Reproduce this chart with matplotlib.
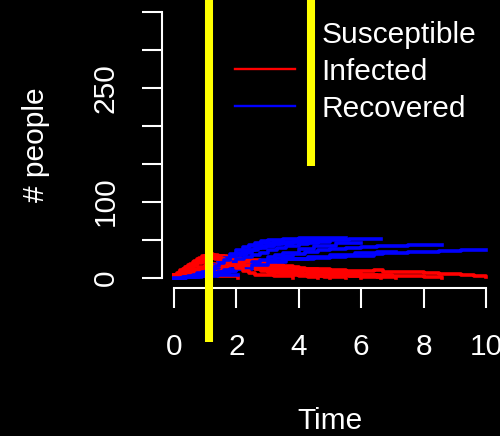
import matplotlib
matplotlib.use("Agg")
import matplotlib.pyplot as plt
from matplotlib.lines import Line2D

plt.rcParams['font.family'] = ['Liberation Sans', 'DejaVu Sans']

# stochastic SIR runs: event times, infected, recovered
run_times = [
    [0, 0.1, 0.2, 0.3, 0.4, 0.5, 0.6, 0.7, 0.8, 0.9, 1.0, 1.15, 1.3, 1.45, 1.6, 1.8, 2.0, 2.2, 2.4, 2.6, 2.8, 3.0, 3.2, 3.4, 3.6, 3.8, 4.0, 4.3, 4.6],
    [0, 0.15, 0.3, 0.45, 0.6, 0.75, 0.9, 1.05, 1.2, 1.35, 1.5, 1.7, 1.9, 2.1, 2.3, 2.5, 2.7, 2.95, 3.2, 3.5, 3.8, 4.1, 4.5, 4.9, 5.2, 5.6, 6.0, 6.3, 6.65],
    [0, 0.3, 0.5, 0.7, 0.9, 1.1, 1.3, 1.5, 1.75, 2.0, 2.25, 2.5, 2.75, 3.0, 3.25, 3.5, 3.8, 4.2, 4.6, 5.0, 5.5, 6.0, 6.5, 7.0, 7.5, 8.0, 8.58],
    [0, 0.2, 0.4, 0.6, 0.8, 1.0, 1.2, 1.4, 1.6, 1.8, 2.05, 2.3, 2.55, 2.8, 3.1, 3.5, 4.0, 4.5, 5.0, 5.5, 6.0, 6.4, 6.7, 7.1, 7.5, 8.0, 8.5, 8.85, 9.2, 9.6, 10.0],
    [0, 0.4, 0.9, 1.4, 2.05],
    [0, 0.1, 0.2, 0.35, 0.5, 0.65, 0.8, 0.95, 1.1, 1.25, 1.4, 1.6, 1.8, 2.0, 2.2, 2.4, 2.6, 2.8, 3.0, 3.25, 3.5, 4.0, 4.4, 4.8, 5.2, 5.5],
    [0, 0.4, 0.6, 0.8, 1.0, 1.2, 1.4, 1.6, 1.8, 2.0, 2.25, 2.5, 2.75, 3.0, 3.25, 3.5, 4.0, 4.5, 5.2, 5.6, 6.0],
    [0, 0.25, 0.5, 0.75, 1.0, 1.15, 1.3, 1.45, 1.6, 1.8, 2.0, 2.25, 2.5, 2.75, 3.0, 3.3, 3.6, 4.0, 4.3, 4.6, 5.0],
    [0, 0.3, 0.6, 0.9, 1.2, 1.6, 2.0, 2.5, 3.0, 3.6, 4.3, 5.0, 5.8, 6.5, 7.13],
    [0, 0.15, 0.3, 0.45, 0.6, 0.75, 0.9, 1.1, 1.3, 1.45, 1.6, 1.8, 2.0, 2.2, 2.4, 2.6, 2.8, 3.2, 3.8],
]
run_infected = [
    [3, 5, 8, 11, 14, 17, 19, 22, 24, 26, 28, 30, 29, 27, 25, 23, 20, 17, 14, 12, 10, 8, 7, 6, 4, 3, 2, 1, 0],
    [3, 6, 9, 12, 16, 19, 22, 25, 27, 29, 28, 26, 23, 21, 19, 16, 14, 12, 10, 8, 6, 5, 4, 3, 3, 2, 1, 1, 0],
    [3, 4, 5, 6, 8, 10, 11, 13, 16, 18, 21, 23, 22, 19, 17, 15, 13, 11, 9, 7, 6, 4, 3, 2, 2, 1, 0],
    [3, 5, 8, 11, 14, 16, 18, 20, 21, 22, 21, 19, 17, 16, 15, 14, 12, 11, 10, 9, 9, 10, 8, 7, 7, 6, 5, 5, 4, 2, 1],
    [3, 4, 3, 2, 0],
    [3, 6, 10, 14, 18, 22, 26, 29, 31, 30, 29, 26, 23, 19, 16, 13, 11, 9, 7, 6, 5, 3, 2, 1, 1, 0],
    [3, 5, 7, 9, 12, 15, 18, 20, 22, 24, 23, 21, 19, 17, 15, 13, 10, 7, 4, 2, 0],
    [3, 8, 15, 21, 25, 26, 25, 24, 22, 20, 18, 16, 14, 12, 10, 8, 6, 4, 3, 2, 0],
    [3, 6, 10, 13, 15, 16, 15, 13, 11, 9, 7, 5, 3, 1, 0],
    [3, 7, 12, 17, 21, 25, 28, 29, 27, 24, 21, 17, 13, 9, 6, 4, 3, 2, 0],
]
run_recovered = [
    [0, 0, 1, 1, 2, 3, 4, 5, 7, 9, 11, 14, 17, 20, 24, 28, 31, 34, 37, 39, 41, 42, 44, 45, 46, 47, 48, 48, 49],
    [0, 1, 1, 2, 3, 5, 7, 9, 12, 15, 19, 23, 26, 30, 33, 36, 39, 41, 44, 46, 47, 48, 49, 50, 50, 51, 51, 51, 51],
    [0, 1, 1, 2, 3, 4, 5, 7, 9, 11, 14, 17, 20, 23, 26, 29, 31, 34, 36, 38, 39, 40, 41, 42, 43, 43, 43],
    [0, 0, 1, 2, 3, 5, 6, 8, 10, 12, 14, 16, 18, 20, 22, 24, 25, 26, 27, 28, 29, 31, 32, 33, 34, 34, 35, 35, 36, 36, 37],
    [0, 1, 2, 3, 4],
    [0, 0, 1, 2, 3, 5, 7, 10, 13, 17, 21, 26, 31, 36, 40, 43, 46, 48, 49, 50, 51, 52, 52, 52, 52, 52],
    [0, 1, 1, 2, 3, 4, 6, 8, 10, 13, 16, 20, 23, 27, 30, 33, 38, 42, 45, 46, 46],
    [0, 1, 3, 5, 9, 11, 13, 16, 18, 21, 24, 27, 30, 33, 36, 39, 42, 44, 46, 47, 48],
    [0, 1, 2, 4, 6, 9, 12, 16, 20, 24, 27, 30, 32, 34, 34],
    [0, 0, 1, 2, 4, 6, 8, 11, 15, 19, 23, 28, 33, 37, 41, 43, 45, 47, 47],
]

# highlight markers: x position, bottom, top
marker_x = [1.12, 4.39]
marker_bottom = [-85, 147]
marker_top = [400, 400]

yticks = [0, 50, 100, 150, 200, 250, 300, 350]
ytick_labels = ['0', '', '100', '', '', '250', '', '']
xticks = [0, 2, 4, 6, 8, 10]

fs = 21.5

fig = plt.figure(figsize=(5, 4.36), dpi=100, facecolor='black')
ax = fig.add_axes([0.323, 0.3388, 0.674, 0.6588], facecolor='black')

for t, inf, rec in zip(run_times, run_infected, run_recovered):
    ax.plot(t, inf, color='red', lw=2.6, drawstyle='steps-post')
    ax.plot(t, rec, color='blue', lw=2.6, drawstyle='steps-post')

for x, y0, y1 in zip(marker_x, marker_bottom, marker_top):
    ax.plot([x, x], [y0, y1], color='yellow', lw=5.8, clip_on=False,
            solid_capstyle='butt', zorder=5)

ax.set_xlim(-0.4, 10.4)
ax.set_ylim(-14, 364)

for s in ['top', 'right']:
    ax.spines[s].set_visible(False)
ax.spines['left'].set_bounds(0, 350)
ax.spines['bottom'].set_bounds(0, 10)
for s in ['left', 'bottom']:
    ax.spines[s].set_color('white')
    ax.spines[s].set_linewidth(1.5)

ax.set_yticks(yticks)
ax.set_yticklabels(ytick_labels, rotation=90, va='center')
ax.set_xticks(xticks)
ax.set_xticklabels([str(v) for v in xticks])
ax.tick_params(colors='white', labelsize=fs, length=14.4, width=1.5)
ax.tick_params(axis='y', pad=15.5)
ax.tick_params(axis='x', pad=17.5)

ax.set_ylabel('# people', color='white', fontsize=fs, va='center')
ax.yaxis.set_label_coords(-0.372, 0.5)
ax.set_xlabel('Time', color='white', fontsize=fs, va='center')
ax.xaxis.set_label_coords(0.5, -0.462)

handles = [Line2D([], [], color='black', lw=1.7),
           Line2D([], [], color='red', lw=1.7),
           Line2D([], [], color='blue', lw=1.7)]
ax.legend(handles, ['Susceptible', 'Infected', 'Recovered'],
          loc='upper left', bbox_to_anchor=(0.218, 0.931), frameon=False,
          fontsize=fs, labelcolor='white', handlelength=2.0,
          handletextpad=0.9, labelspacing=0.3, borderpad=0, borderaxespad=0)

fig.savefig('out.png', dpi=100, facecolor='black')
